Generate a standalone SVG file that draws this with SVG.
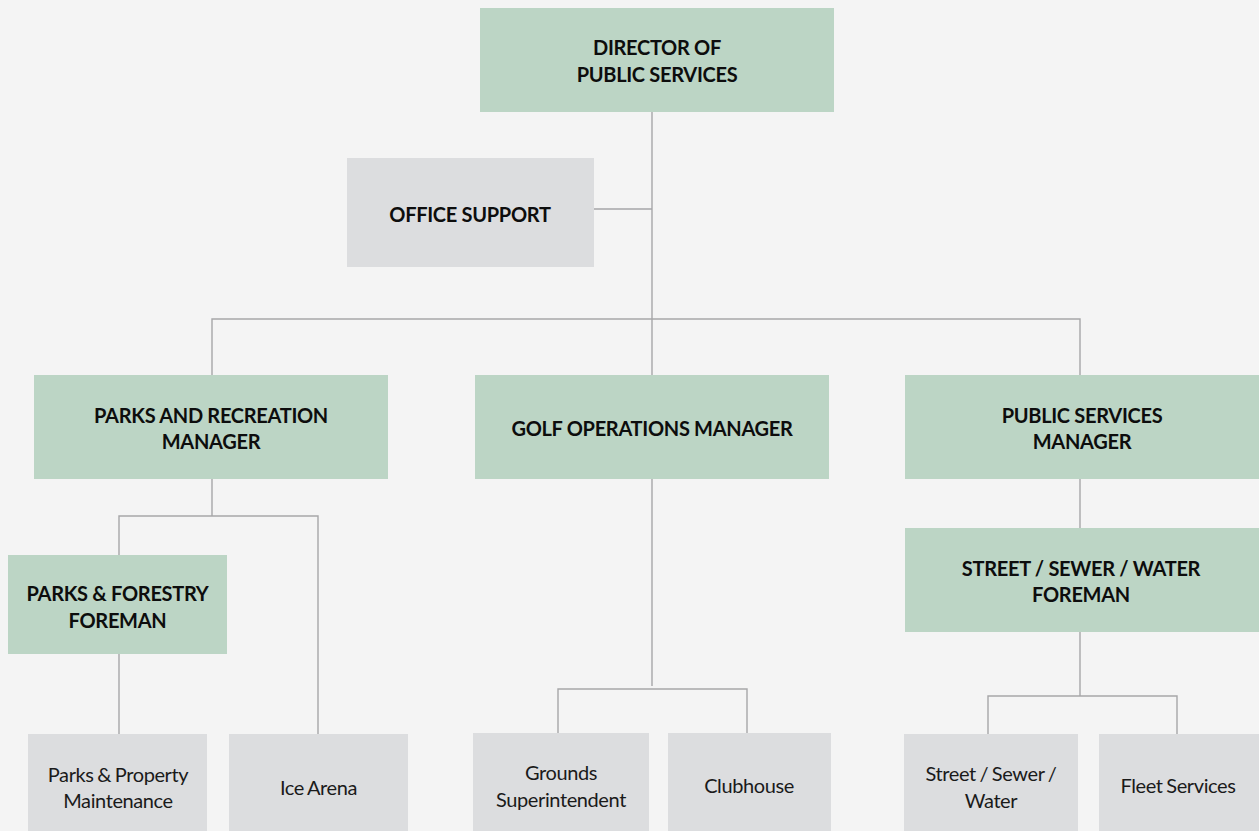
<svg xmlns="http://www.w3.org/2000/svg" width="1259" height="831" viewBox="0 0 1259 831">
<style>
.bg{fill:#f4f4f4}
.g{fill:#bcd5c5}
.s{fill:#dcdddf}
.b{font-family:Lato,"Liberation Sans",sans-serif;font-weight:bold;font-size:20px;letter-spacing:-0.3px;fill:#0d0d0d;text-anchor:middle}
.r{font-family:Lato,"Liberation Sans",sans-serif;font-size:20px;letter-spacing:-0.4px;word-spacing:-1px;fill:#1a1a1a;text-anchor:middle}
.c{fill:none;stroke:#a6a6a8;stroke-width:1.4}
</style>
<rect class="bg" x="0" y="0" width="1259" height="831"/>
<g id="connectors">
<path class="c" d="M652 112V686"/>
<path class="c" d="M594 209H652"/>
<path class="c" d="M212 375V319H1080V375"/>
<path class="c" d="M212 479V516"/>
<path class="c" d="M119 555V516H318V734"/>
<path class="c" d="M119 654V734"/>
<path class="c" d="M558 733V689H747V733"/>
<path class="c" d="M1080 479V528"/>
<path class="c" d="M1080 632V696"/>
<path class="c" d="M988 734V696H1177V734"/>
</g>
<g id="director">
<rect class="g" x="480" y="8" width="354" height="104"/>
<text class="b" x="657" y="55">DIRECTOR OF</text>
<text class="b" x="657" y="82">PUBLIC SERVICES</text>
</g>
<g id="office-support">
<rect class="s" x="347" y="158" width="247" height="109"/>
<text class="b" x="470" y="222">OFFICE SUPPORT</text>
</g>
<g id="parks-rec-manager">
<rect class="g" x="34" y="375" width="354" height="104"/>
<text class="b" x="211" y="423">PARKS AND RECREATION</text>
<text class="b" x="211" y="449">MANAGER</text>
</g>
<g id="golf-manager">
<rect class="g" x="475" y="375" width="354" height="104"/>
<text class="b" x="652" y="436">GOLF OPERATIONS MANAGER</text>
</g>
<g id="public-services-manager">
<rect class="g" x="905" y="375" width="354" height="104"/>
<text class="b" x="1082" y="423">PUBLIC SERVICES</text>
<text class="b" x="1082" y="449">MANAGER</text>
</g>
<g id="parks-forestry-foreman">
<rect class="g" x="8" y="555" width="219" height="99"/>
<text class="b" x="117.5" y="601">PARKS &amp; FORESTRY</text>
<text class="b" x="117.5" y="628">FOREMAN</text>
</g>
<g id="street-foreman">
<rect class="g" x="905" y="528" width="354" height="104"/>
<text class="b" x="1081" y="576">STREET / SEWER / WATER</text>
<text class="b" x="1081" y="602">FOREMAN</text>
</g>
<g id="parks-property">
<rect class="s" x="28" y="734" width="179" height="97"/>
<text class="r" x="118" y="782">Parks &amp; Property</text>
<text class="r" x="118" y="808">Maintenance</text>
</g>
<g id="ice-arena">
<rect class="s" x="229" y="734" width="179" height="97"/>
<text class="r" x="318.5" y="795">Ice Arena</text>
</g>
<g id="grounds">
<rect class="s" x="473" y="733" width="176" height="98"/>
<text class="r" x="561" y="780">Grounds</text>
<text class="r" x="561" y="807">Superintendent</text>
</g>
<g id="clubhouse">
<rect class="s" x="668" y="733" width="163" height="98"/>
<text class="r" x="749" y="793">Clubhouse</text>
</g>
<g id="street-sewer-water">
<rect class="s" x="904" y="734" width="174" height="97"/>
<text class="r" x="991" y="781">Street / Sewer /</text>
<text class="r" x="991" y="808">Water</text>
</g>
<g id="fleet-services">
<rect class="s" x="1099" y="734" width="160" height="97"/>
<text class="r" x="1178" y="793">Fleet Services</text>
</g>
</svg>
